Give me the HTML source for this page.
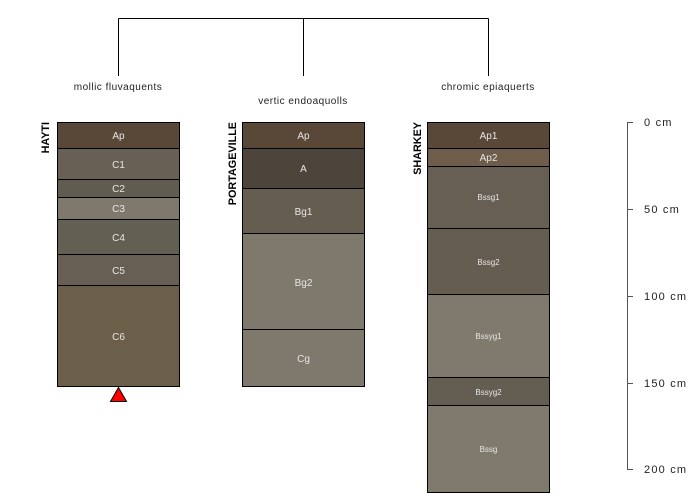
<!DOCTYPE html>
<html><head><meta charset="utf-8"><style>
html,body{margin:0;padding:0;background:#fff;}
svg{display:block;}
text{font-family:"Liberation Sans",sans-serif;}
</style></head><body>
<svg width="700" height="500" viewBox="0 0 700 500" xmlns="http://www.w3.org/2000/svg">
<!-- tree -->
<g stroke="#000" stroke-width="1" fill="none">
<line x1="118.5" y1="18.5" x2="488.5" y2="18.5"/>
<line x1="118.5" y1="18.5" x2="118.5" y2="76"/>
<line x1="303.5" y1="18.5" x2="303.5" y2="76"/>
<line x1="488.5" y1="18.5" x2="488.5" y2="76"/>
</g>
<g font-size="10" fill="#222" text-anchor="middle" letter-spacing="0.5">
<text x="118" y="90">mollic fluvaquents</text>
<text x="303" y="104">vertic endoaquolls</text>
<text x="488" y="90">chromic epiaquerts</text>
</g>

<!-- HAYTI -->
<g stroke="#000" stroke-width="1">
<rect x="57.5" y="122.5" width="122" height="26" fill="#594838"/>
<rect x="57.5" y="148.5" width="122" height="31" fill="#686054"/>
<rect x="57.5" y="179.5" width="122" height="18" fill="#605c50"/>
<rect x="57.5" y="197.5" width="122" height="22" fill="#7e796c"/>
<rect x="57.5" y="219.5" width="122" height="35" fill="#625f53"/>
<rect x="57.5" y="254.5" width="122" height="31" fill="#685f54"/>
<rect x="57.5" y="285.5" width="122" height="101" fill="#6c5f49"/>
</g>
<polygon points="118.5,387.5 110.5,401.5 126.5,401.5" fill="#ff0000" stroke="#000" stroke-width="1"/>
<g font-size="10" fill="#e6e6e6" text-anchor="middle">
<text x="118.5" y="139">Ap</text>
<text x="118.5" y="168">C1</text>
<text x="118.5" y="192">C2</text>
<text x="118.5" y="212">C3</text>
<text x="118.5" y="241">C4</text>
<text x="118.5" y="274">C5</text>
<text x="118.5" y="340">C6</text>
</g>
<text transform="translate(49,122) rotate(-90)" font-size="10.8" font-weight="bold" fill="#000" text-anchor="end">HAYTI</text>

<!-- PORTAGEVILLE -->
<g stroke="#000" stroke-width="1">
<rect x="242.5" y="122.5" width="122" height="26" fill="#594838"/>
<rect x="242.5" y="148.5" width="122" height="40" fill="#4d453b"/>
<rect x="242.5" y="188.5" width="122" height="45" fill="#665d51"/>
<rect x="242.5" y="233.5" width="122" height="96" fill="#7e796c"/>
<rect x="242.5" y="329.5" width="122" height="57" fill="#7e796c"/>
</g>
<g font-size="10" fill="#e6e6e6" text-anchor="middle">
<text x="303.5" y="139">Ap</text>
<text x="303.5" y="172">A</text>
<text x="303.5" y="215">Bg1</text>
<text x="303.5" y="286">Bg2</text>
<text x="303.5" y="362">Cg</text>
</g>
<text transform="translate(236,122) rotate(-90)" font-size="10.8" font-weight="bold" fill="#000" text-anchor="end">PORTAGEVILLE</text>

<!-- SHARKEY -->
<g stroke="#000" stroke-width="1">
<rect x="427.5" y="122.5" width="122" height="26" fill="#594838"/>
<rect x="427.5" y="148.5" width="122" height="18" fill="#6e5d4a"/>
<rect x="427.5" y="166.5" width="122" height="62" fill="#675f53"/>
<rect x="427.5" y="228.5" width="122" height="66" fill="#665d51"/>
<rect x="427.5" y="294.5" width="122" height="83" fill="#807a6e"/>
<rect x="427.5" y="377.5" width="122" height="28" fill="#635d52"/>
<rect x="427.5" y="405.5" width="122" height="87" fill="#807a6e"/>
</g>
<g fill="#e6e6e6" text-anchor="middle">
<text x="488.5" y="139" font-size="10">Ap1</text>
<text x="488.5" y="161" font-size="10">Ap2</text>
<text x="488.5" y="200" font-size="8">Bssg1</text>
<text x="488.5" y="265" font-size="8">Bssg2</text>
<text x="488.5" y="339" font-size="8">Bssyg1</text>
<text x="488.5" y="395" font-size="8">Bssyg2</text>
<text x="488.5" y="452" font-size="8">Bssg</text>
</g>
<text transform="translate(421,122) rotate(-90)" font-size="10.8" font-weight="bold" fill="#000" text-anchor="end">SHARKEY</text>

<!-- scale -->
<g stroke="#555" stroke-width="1">
<line x1="627.5" y1="122.5" x2="627.5" y2="469.5"/>
<line x1="627" y1="122.5" x2="633" y2="122.5"/>
<line x1="627" y1="209.5" x2="633" y2="209.5"/>
<line x1="627" y1="296.5" x2="633" y2="296.5"/>
<line x1="627" y1="383.5" x2="633" y2="383.5"/>
<line x1="627" y1="469.5" x2="633" y2="469.5"/>
</g>
<g font-size="11" fill="#222" letter-spacing="1.2">
<text x="644" y="126">0 cm</text>
<text x="644" y="213">50 cm</text>
<text x="644" y="300">100 cm</text>
<text x="644" y="387">150 cm</text>
<text x="644" y="473">200 cm</text>
</g>
</svg>
</body></html>
